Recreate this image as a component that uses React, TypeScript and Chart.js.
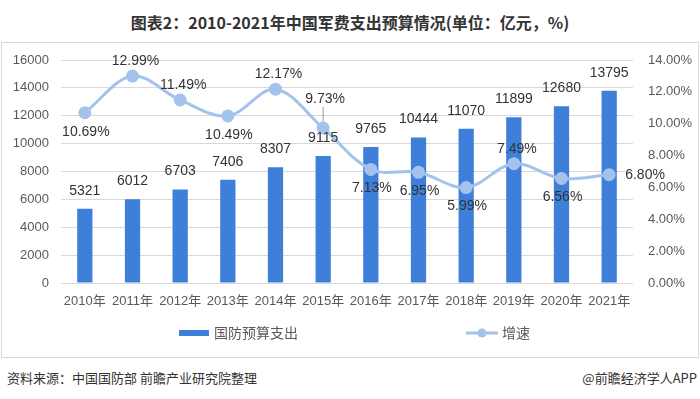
import React, { useEffect, useRef } from "react";
import { Chart, registerables } from "chart.js";

Chart.register(...registerables);

const categories = ["2010年", "2011年", "2012年", "2013年", "2014年", "2015年", "2016年", "2017年", "2018年", "2019年", "2020年", "2021年"];
const budget = [5321, 6012, 6703, 7406, 8307, 9115, 9765, 10444, 11070, 11899, 12680, 13795];
const growth = [10.69, 12.99, 11.49, 10.49, 12.17, 9.73, 7.13, 6.95, 5.99, 7.49, 6.56, 6.8];
const growthLabelPlace = ["below", "above", "above", "below", "above", "leader", "below", "below", "below", "above", "below", "right"];
const barName = "国防预算支出";
const lineName = "增速";
const titleText = "图表2：2010-2021年中国军费支出预算情况(单位：亿元，%)";
const sourceText = "资料来源：中国国防部 前瞻产业研究院整理";
const brandText = "@前瞻经济学人APP";

const BAR_COLOR = "#3E7FDA";
const LINE_COLOR = "#A3C3EC";
const FONT = '"Liberation Sans", "Noto Sans CJK SC", sans-serif';
const CJK = '"Noto Sans CJK SC", "Liberation Sans", sans-serif';

const labelPlugin = {
  id: "valueLabels",
  afterDatasetsDraw(chart: any) {
    const ctx = chart.ctx;
    ctx.save();
    ctx.fillStyle = "#333333";
    ctx.font = `14px ${FONT}`;
    const barMeta = chart.getDatasetMeta(1);
    barMeta.data.forEach((el: any, i: number) => {
      ctx.textAlign = "center";
      ctx.textBaseline = "middle";
      ctx.fillText(String(budget[i]), el.x, el.y - 18);
    });
    const lineMeta = chart.getDatasetMeta(0);
    lineMeta.data.forEach((el: any, i: number) => {
      const txt = growth[i].toFixed(2) + "%";
      const p = growthLabelPlace[i];
      ctx.textBaseline = "middle";
      if (p === "right") {
        ctx.textAlign = "left";
        ctx.fillText(txt, el.x + 16, el.y);
      } else if (p === "leader") {
        ctx.textAlign = "center";
        ctx.fillText(txt, el.x + 2, el.y - 29);
        ctx.strokeStyle = "#9a9a9a";
        ctx.lineWidth = 1;
        ctx.beginPath();
        ctx.moveTo(el.x, el.y - 21);
        ctx.lineTo(el.x, el.y - 6);
        ctx.stroke();
      } else if (p === "above") {
        ctx.textAlign = "center";
        ctx.fillText(txt, el.x + 3, el.y - 15);
      } else {
        ctx.textAlign = "center";
        ctx.fillText(txt, el.x + 1, el.y + 19);
      }
    });
    ctx.restore();
  },
};

const legendPlugin = {
  id: "customLegend",
  afterDraw(chart: any) {
    const ctx = chart.ctx;
    const cx = chart.width / 2;
    const y = 290;
    ctx.save();
    ctx.font = `14px ${CJK}`;
    ctx.textBaseline = "middle";
    ctx.textAlign = "left";
    const bx = cx - 171;
    ctx.fillStyle = BAR_COLOR;
    ctx.fillRect(bx, y - 3, 30, 6);
    ctx.fillStyle = "#595959";
    ctx.fillText(barName, bx + 35, y);
    const lx = cx + 116;
    ctx.strokeStyle = LINE_COLOR;
    ctx.lineWidth = 3;
    ctx.beginPath();
    ctx.moveTo(lx, y);
    ctx.lineTo(lx + 32, y);
    ctx.stroke();
    ctx.fillStyle = LINE_COLOR;
    ctx.beginPath();
    ctx.arc(lx + 16, y, 4.5, 0, Math.PI * 2);
    ctx.fill();
    ctx.fillStyle = "#595959";
    ctx.fillText(lineName, lx + 36, y);
    ctx.restore();
  },
};

export default function App() {
  const ref = useRef<HTMLCanvasElement>(null);
  useEffect(() => {
    if (!ref.current) return;
    const chart = new Chart(ref.current, {
      type: "bar",
      data: {
        labels: categories,
        datasets: [
          {
            type: "line",
            label: lineName,
            data: growth,
            yAxisID: "y1",
            borderColor: LINE_COLOR,
            backgroundColor: LINE_COLOR,
            borderWidth: 3,
            pointRadius: 5,
            pointBackgroundColor: LINE_COLOR,
            pointBorderColor: LINE_COLOR,
            tension: 0.35,
            order: 0,
          } as any,
          {
            type: "bar",
            label: barName,
            data: budget,
            yAxisID: "y",
            backgroundColor: BAR_COLOR,
            barPercentage: 0.32,
            categoryPercentage: 1,
            order: 1,
          },
        ],
      },
      options: {
        responsive: false,
        animation: false,
        layout: { padding: { top: 17, left: 0, right: 0, bottom: 0 } },
        plugins: {
          legend: { display: false },
          tooltip: { enabled: false },
          title: { display: false },
        },
        scales: {
          x: {
            grid: { display: false, drawTicks: false },
            border: { display: false },
            ticks: { color: "#595959", font: { size: 13, family: FONT }, padding: 11, maxRotation: 0, autoSkip: false },
            afterFit: (s: any) => { s.height = 74; },
          },
          y: {
            position: "left",
            min: 0,
            max: 16000,
            ticks: { stepSize: 2000, color: "#595959", font: { size: 13, family: FONT }, padding: 0, callback: (v: any) => String(v) },
            grid: { color: "#D9D9D9", drawTicks: true, tickLength: 12, tickColor: "rgba(0,0,0,0)" },
            border: { display: false },
            afterFit: (s: any) => { s.width = 59; },
          },
          y1: {
            position: "right",
            min: 0,
            max: 14,
            ticks: { stepSize: 2, color: "#595959", font: { size: 13, family: FONT }, padding: 0, callback: (v: any) => Number(v).toFixed(2) + "%" },
            grid: { display: false, drawTicks: true, tickLength: 15, tickColor: "rgba(0,0,0,0)" },
            border: { display: false },
            afterFit: (s: any) => { s.width = 65; },
          },
        },
      },
      plugins: [labelPlugin, legendPlugin],
    });
    return () => chart.destroy();
  }, []);

  return (
    <div style={{ position: "fixed", left: 0, top: 0, width: 700, height: 399, background: "#fff", overflow: "hidden" }}>
      <div style={{ position: "absolute", left: 0, top: 11, width: 700, textAlign: "center", fontFamily: CJK, fontWeight: "bold", fontSize: 16, lineHeight: "22px", color: "#333" }}>
        {titleText}
      </div>
      <div style={{ position: "absolute", left: 1, top: 42, width: 696, height: 314, border: "1px solid #D9D9D9" }}>
        <canvas ref={ref} width={696} height={314} style={{ display: "block" }} />
      </div>
      <div style={{ position: "absolute", left: 7, top: 369, fontFamily: CJK, fontSize: 13, lineHeight: "18px", color: "#333" }}>
        {sourceText}
      </div>
      <div style={{ position: "absolute", right: 3, top: 369, fontFamily: CJK, fontSize: 13, lineHeight: "18px", color: "#333" }}>
        {brandText}
      </div>
    </div>
  );
}
